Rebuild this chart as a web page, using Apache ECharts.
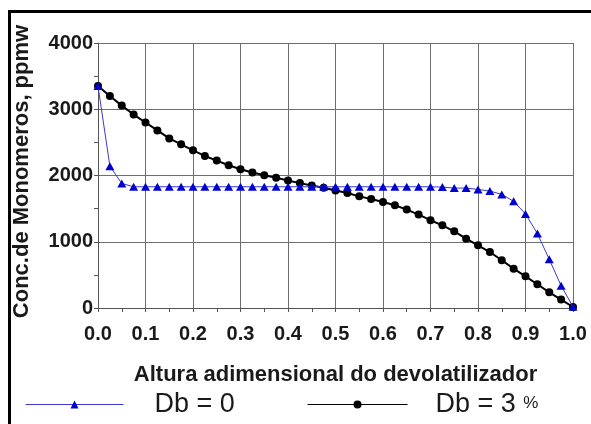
<!DOCTYPE html>
<html>
<head>
<meta charset="utf-8">
<script src="https://cdn.jsdelivr.net/npm/echarts@6/dist/echarts.min.js"></script>
<style>
html,body{margin:0;padding:0;background:#fff;}
#chart{width:591px;height:424px;}
</style>
</head>
<body>
<div id="chart"></div>
<script>
var heights = [0,0.025,0.05,0.075,0.1,0.125,0.15,0.175,0.2,0.225,0.25,0.275,0.3,0.325,0.35,0.375,0.4,0.425,0.45,0.475,0.5,0.525,0.55,0.575,0.6,0.625,0.65,0.675,0.7,0.725,0.75,0.775,0.8,0.825,0.85,0.875,0.9,0.925,0.95,0.975,1.0];
var db0 = [3350,2140,1880,1830,1830,1830,1830,1830,1830,1830,1830,1830,1830,1830,1830,1830,1830,1830,1830,1830,1830,1830,1830,1830,1830,1830,1830,1830,1830,1825,1810,1810,1790,1765,1715,1610,1420,1123,735,335,20];
var db3 = [3350,3200,3055,2920,2800,2680,2560,2470,2380,2295,2225,2155,2095,2045,2005,1965,1925,1885,1850,1815,1775,1735,1685,1645,1600,1550,1485,1410,1325,1248,1157,1047,946,845,720,594,478,358,237,127,15];
var seriesNames = ['Db = 0','Db = 3 %'];
var xTicks = ['0.0','0.1','0.2','0.3','0.4','0.5','0.6','0.7','0.8','0.9','1.0'];
var yTicks = ['0','1000','2000','3000','4000'];
var xTitle = 'Altura adimensional do devolatilizador';
var yTitle = 'Conc.de Monomeros, ppmw';

function pairs(ys){ return heights.map(function(h,i){ return [h, ys[i]]; }); }

var FONT = "'Liberation Sans', Arial, sans-serif";
var chart = echarts.init(document.getElementById('chart'), null, {renderer:'canvas'});
chart.setOption({
  animation:false,
  backgroundColor:'#fff',
  grid:{left:98,right:18,top:43,bottom:116,containLabel:false},
  xAxis:{
    type:'value',min:0,max:1,interval:0.1,
    name:xTitle,nameLocation:'middle',nameGap:56,
    nameTextStyle:{fontFamily:FONT,fontWeight:'bold',fontSize:22,color:'#1a1a1a'},
    axisLine:{show:true,lineStyle:{color:'#555',width:1}},
    axisTick:{show:true,length:4,lineStyle:{color:'#555'}},
    minorTick:{show:true,splitNumber:2,length:4,lineStyle:{color:'#555'}},
    splitLine:{show:true,lineStyle:{color:'#6e6e6e',width:1}},
    axisLabel:{margin:16,fontFamily:FONT,fontWeight:'bold',fontSize:20,color:'#1a1a1a',
      formatter:function(v){ return xTicks[Math.round(v*10)]; }}
  },
  yAxis:{
    type:'value',min:0,max:4000,interval:1000,
    name:yTitle,nameLocation:'middle',nameGap:65,
    nameTextStyle:{fontFamily:FONT,fontWeight:'bold',fontSize:22,color:'#1a1a1a',padding:[0,0,0,8]},
    axisLine:{show:true,lineStyle:{color:'#555',width:1}},
    axisTick:{show:true,length:4,lineStyle:{color:'#555'}},
    minorTick:{show:true,splitNumber:2,length:4,lineStyle:{color:'#555'}},
    splitLine:{show:true,lineStyle:{color:'#6e6e6e',width:1}},
    axisLabel:{margin:5,fontFamily:FONT,fontWeight:'bold',fontSize:20,color:'#1a1a1a',
      formatter:function(v){ return yTicks[Math.round(v/1000)]; }}
  },
  legend:[
    {left:20,top:386,itemWidth:98,itemHeight:10,itemGap:0,
     data:[seriesNames[0]],
     lineStyle:{width:1},
     textStyle:{fontFamily:FONT,fontSize:27,color:'#1a1a1a',padding:[0,0,0,26]}},
    {left:302,top:386,itemWidth:100,itemHeight:10,itemGap:0,
     data:[seriesNames[1]],
     lineStyle:{width:1},
     formatter:function(n){ return '{a|Db = 3 }{b|%}'; },
     textStyle:{fontFamily:FONT,fontSize:27,color:'#1a1a1a',padding:[0,0,0,23],
       rich:{a:{fontFamily:FONT,fontSize:27,color:'#1a1a1a',verticalAlign:'middle'},
             b:{fontFamily:FONT,fontSize:17,color:'#1a1a1a',verticalAlign:'middle',padding:[0,0,3,0]}}}}
  ],
  graphic:[
    {type:'polyline',silent:true,z:100,
     shape:{points:[[9.5,430],[9.5,11.5],[600,11.5]]},
     style:{stroke:'#000',lineWidth:3,fill:null}}
  ],
  series:[
    {name:seriesNames[1],type:'line',data:pairs(db3),
     symbol:'circle',symbolSize:8,
     lineStyle:{color:'#000',width:2},
     itemStyle:{color:'#000'},z:2},
    {name:seriesNames[0],type:'line',data:pairs(db0),
     symbol:'triangle',symbolSize:[9,8],
     lineStyle:{color:'#3a3ad0',width:1},
     itemStyle:{color:'#0000d0'},z:3}
  ]
});
</script>
</body>
</html>
